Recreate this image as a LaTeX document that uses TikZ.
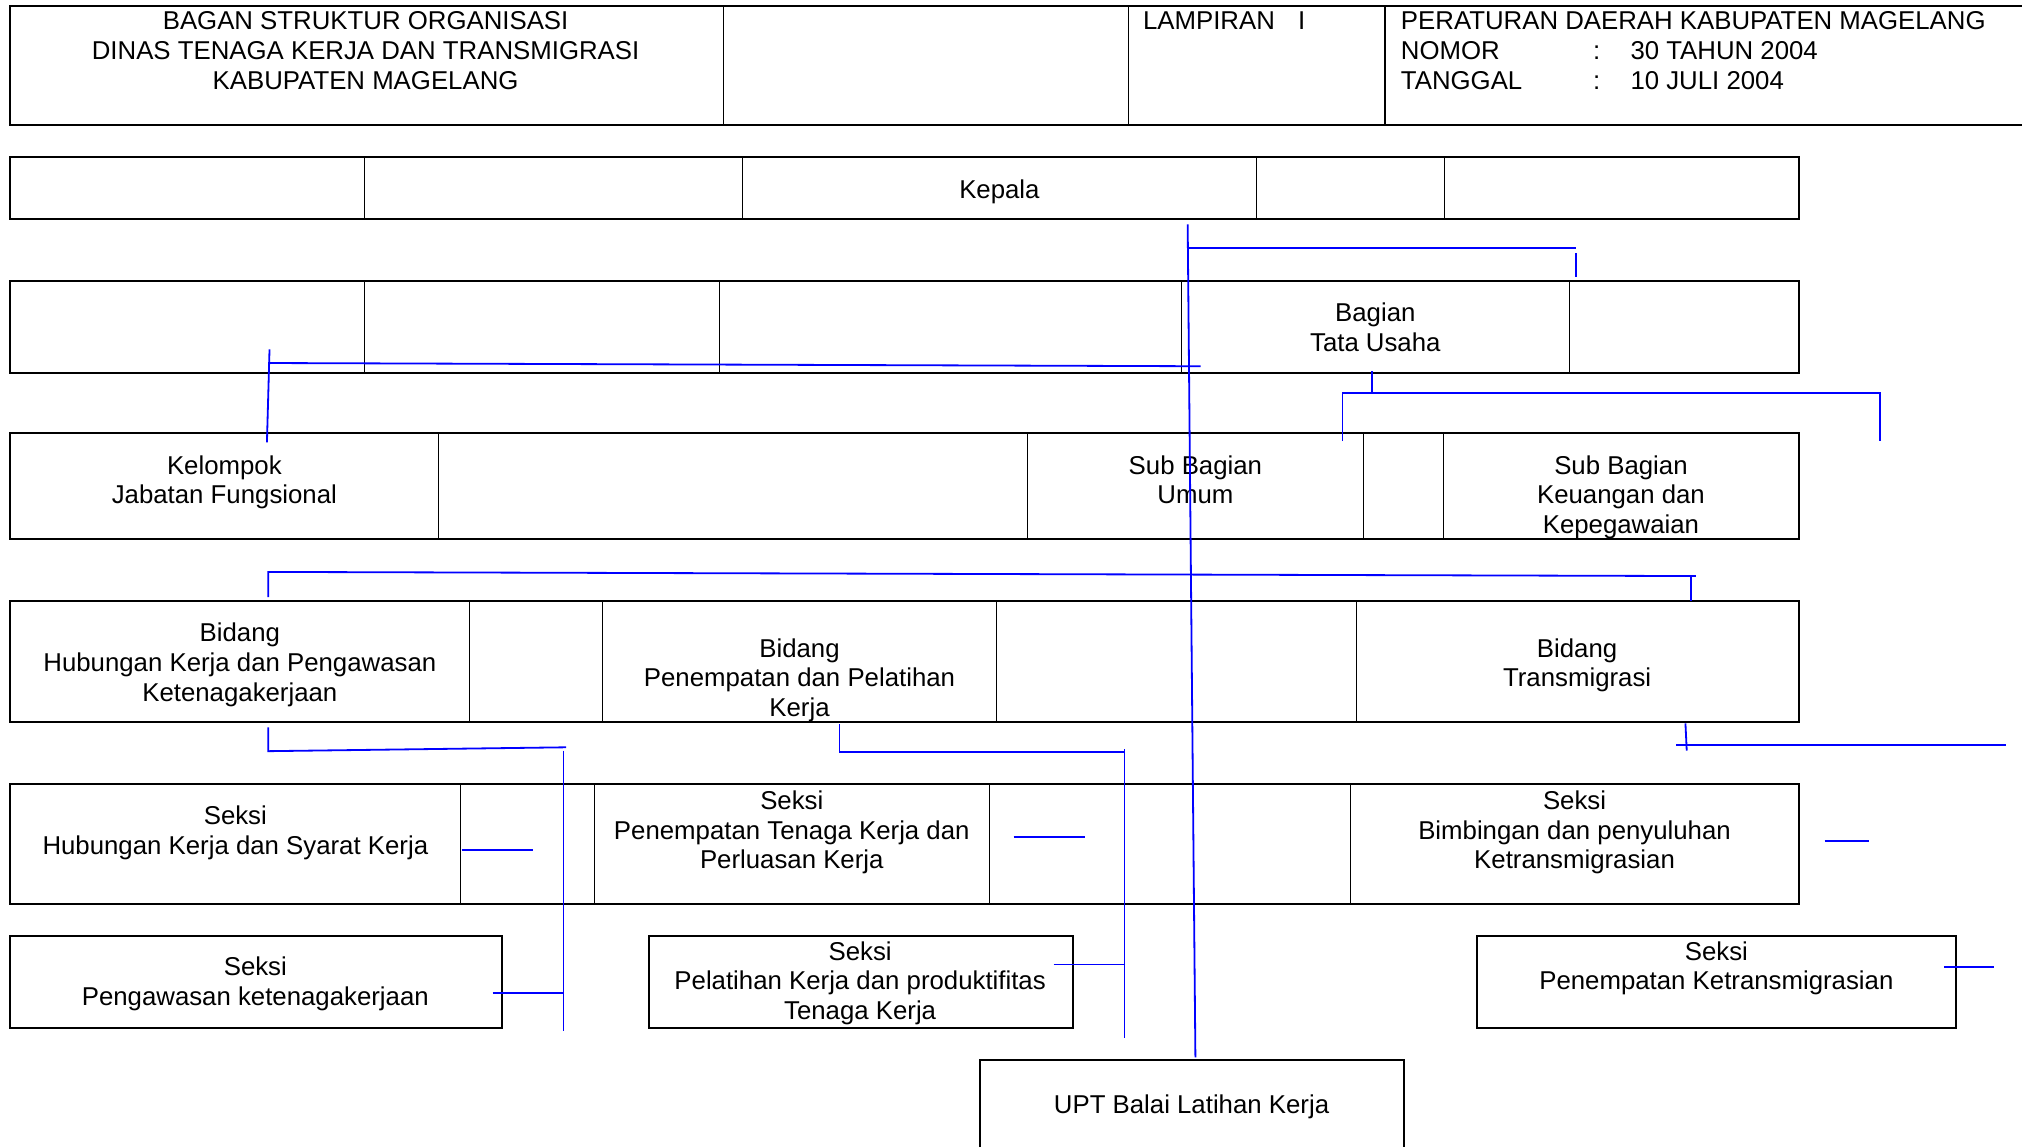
\documentclass[tikz,border=0pt]{standalone}
\usepackage{fontspec}
\setmainfont{Liberation Sans}
\begin{document}
\begin{tikzpicture}[x=0.5pt,y=-0.5pt,
  frame/.style={line width=0.8pt},
  divider/.style={line width=0.4pt},
  conn/.style={draw=blue, line width=0.7pt},
  txt/.style={font=\fontsize{10}{11.5}\selectfont, align=center, inner sep=0pt, anchor=north},
  ltxt/.style={font=\fontsize{10}{11.5}\selectfont, inner sep=0pt, anchor=base west}]
\useasboundingbox (0,0) rectangle (1568,889.5);

% ---------- header ----------
\draw[frame] (1568,5) -- (8,5) -- (8,97) -- (1568,97);
\foreach \x in {561,875,1074} \draw[divider] (\x,5) -- (\x,97);
\node[txt] (title) at (283.5,8.8) {BAGAN STRUKTUR ORGANISASI\\DINAS TENAGA KERJA DAN TRANSMIGRASI\\KABUPATEN MAGELANG};
\node[ltxt] (lamp) at (886,23.2) {LAMPIRAN\hspace{9pt}I};
\node[ltxt] (perda) at (1086,23.2) {PERATURAN DAERAH KABUPATEN MAGELANG};
\node[ltxt] (nomor) at (1086,46.2) {NOMOR};
\node[ltxt] (nomorc) at (1235,46.2) {:};
\node[ltxt] (nomorv) at (1264,46.2) {30 TAHUN 2004};
\node[ltxt] (tgl) at (1086,69.2) {TANGGAL};
\node[ltxt] (tglc) at (1235,69.2) {:};
\node[ltxt] (tglv) at (1264,69.2) {10 JULI 2004};

% ---------- row 1 ----------
\draw[frame] (8,122) rectangle (1395,170);
\foreach \x in {283,576,974,1120} \draw[divider] (\x,122) -- (\x,170);
\node[txt] (kepala) at (775,138.8) {Kepala};

% ---------- row 2 ----------
\draw[frame] (8,218) rectangle (1395,289);
\foreach \x in {283,558,916,1217} \draw[divider] (\x,218) -- (\x,289);
\node[txt] (tu) at (1066.5,234.8) {Bagian\\Tata Usaha};

% ---------- row 3 ----------
\draw[frame] (8,336) rectangle (1395,418);
\foreach \x in {340,797,1057,1119} \draw[divider] (\x,336) -- (\x,418);
\node[txt] (jf) at (174,352.8) {Kelompok\\Jabatan Fungsional};
\node[txt] (umum) at (927,352.8) {Sub Bagian\\Umum};
\node[txt] (keu) at (1257,352.8) {Sub Bagian\\Keuangan dan\\Kepegawaian};

% ---------- row 4 ----------
\draw[frame] (8,466) rectangle (1395,560);
\foreach \x in {364,467,773,1052} \draw[divider] (\x,466) -- (\x,560);
\node[txt] (bhk) at (186,482.8) {Bidang\\Hubungan Kerja dan Pengawasan\\Ketenagakerjaan};
\node[txt] (bpp) at (620,494.8) {Bidang\\Penempatan dan Pelatihan\\Kerja};
\node[txt] (btr) at (1223,494.8) {Bidang\\Transmigrasi};

% ---------- row 5 ----------
\draw[frame] (8,608) rectangle (1395,701);
\foreach \x in {357,461,767,1047} \draw[divider] (\x,608) -- (\x,701);
\node[txt] (shk) at (182.5,624.8) {Seksi\\Hubungan Kerja dan Syarat Kerja};
\node[txt] (spt) at (614,612.8) {Seksi\\Penempatan Tenaga Kerja dan\\Perluasan Kerja};
\node[txt] (sbp) at (1221,612.8) {Seksi\\Bimbingan dan penyuluhan\\Ketransmigrasian};

% ---------- row 6 ----------
\draw[frame] (8,726) rectangle (389,797);
\draw[frame] (503,726) rectangle (832,797);
\draw[frame] (1145,726) rectangle (1517,797);
\node[txt] (spk) at (198,741.8) {Seksi\\Pengawasan ketenagakerjaan};
\node[txt] (spl) at (667,729.8) {Seksi\\Pelatihan Kerja dan produktifitas\\Tenaga Kerja};
\node[txt] (spkt) at (1331,729.8) {Seksi\\Penempatan Ketransmigrasian};

% ---------- UPT ----------
\draw[frame] (760,889.5) -- (760,822) -- (1089,822) -- (1089,889.5);
\node[txt] (upt) at (924,848.8) {UPT Balai Latihan Kerja};

% ---------- blue connectors ----------
\coordinate (kA) at (921,174); \coordinate (kB) at (927,820);
\draw[conn] (kA) -- (kB);
\coordinate (kC) at (921,192); \coordinate (kD) at (1222,192);
\draw[conn] (kC) -- (kD);
\coordinate (kE) at (1222,196); \coordinate (kF) at (1222,215);
\draw[conn] (kE) -- (kF);

\coordinate (jA) at (931,284); \coordinate (jB) at (208,281.5);
\draw[conn] (jA) -- (jB);
\coordinate (jC) at (209,271); \coordinate (jD) at (207,343);
\draw[conn] (jC) -- (jD);

\coordinate (tA) at (1064,288); \coordinate (tB) at (1064,305);
\draw[conn] (tA) -- (tB);
\coordinate (tC) at (1041,342); \coordinate (tD) at (1041,305);
\coordinate (tE) at (1458,305); \coordinate (tF) at (1458,342);
\draw[conn] (tC) -- (tD) -- (tE) -- (tF);

\coordinate (bA) at (208,463); \coordinate (bB) at (208,443.5); \coordinate (bC) at (1315,446.7);
\draw[conn] (bA) -- (bB) -- (bC);
\coordinate (bD) at (1311,446.5); \coordinate (bE) at (1311,466);
\draw[conn] (bD) -- (bE);

\coordinate (hA) at (208,564); \coordinate (hB) at (208,582.5); \coordinate (hC) at (439,579.5);
\draw[conn] (hA) -- (hB) -- (hC);
\coordinate (hD) at (437,582); \coordinate (hE) at (437,799.5);
\draw[conn] (hD) -- (hE);
\coordinate (hF) at (358,659); \coordinate (hG) at (413,659);
\draw[conn] (hF) -- (hG);
\coordinate (hH) at (382,770); \coordinate (hI) at (437,770);
\draw[conn] (hH) -- (hI);

\coordinate (pA) at (651,561.5); \coordinate (pB) at (651,583); \coordinate (pC) at (872,583);
\draw[conn] (pA) -- (pB) -- (pC);
\coordinate (pD) at (872,581); \coordinate (pE) at (872,805);
\draw[conn] (pD) -- (pE);
\coordinate (pF) at (786,649); \coordinate (pG) at (841,649);
\draw[conn] (pF) -- (pG);
\coordinate (pH) at (817,748); \coordinate (pI) at (872,748);
\draw[conn] (pH) -- (pI);

\coordinate (rA) at (1307,561); \coordinate (rB) at (1308,582);
\draw[conn] (rA) -- (rB);
\coordinate (rC) at (1300,578); \coordinate (rD) at (1555.5,578);
\draw[conn] (rC) -- (rD);
\coordinate (rE) at (1415,652); \coordinate (rF) at (1449,652);
\draw[conn] (rE) -- (rF);
\coordinate (rG) at (1507.5,750); \coordinate (rH) at (1546,750);
\draw[conn] (rG) -- (rH);
\end{tikzpicture}
\end{document}
